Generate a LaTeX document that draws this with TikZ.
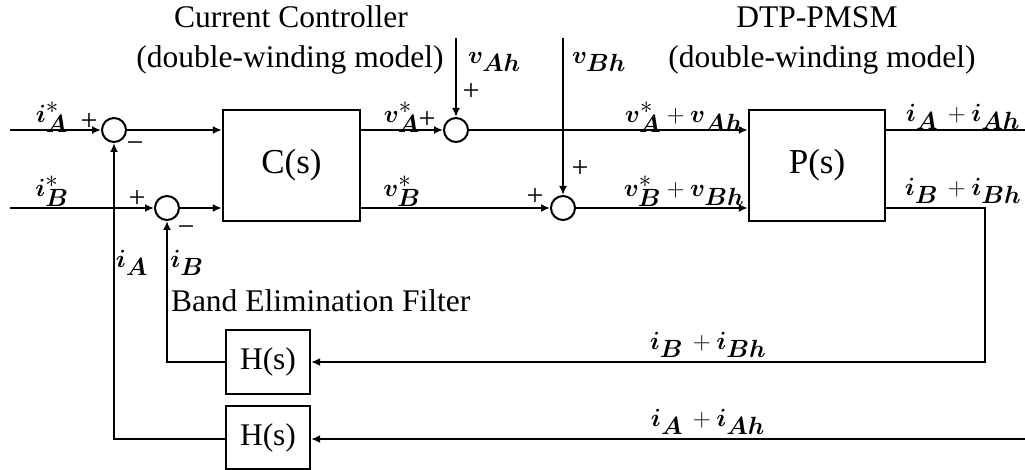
\documentclass[tikz,border=0pt]{standalone}
\usepackage{fontspec}
\setmainfont{Liberation Serif}
\usepackage{bm}
\usetikzlibrary{arrows.meta}
\begin{document}
\begin{tikzpicture}[x=1pt,y=-1pt,
  line width=2pt,
  blk/.style={draw,line width=2.4pt,inner sep=0pt},
  bigf/.style={font=\fontsize{35}{40}\selectfont},
  midf/.style={font=\fontsize{31.5}{36}\selectfont},
  sumj/.style={draw,circle,line width=2pt,minimum size=24pt,inner sep=0pt},
  arr/.style={-{Latex[length=9pt,width=8pt]}},
  thin/.style={line width=1.5pt},
  lbl/.style={font=\fontsize{36}{40}\selectfont,inner sep=0pt},
  sgn/.style={font=\fontsize{30}{34}\selectfont,inner sep=0pt},
  txt/.style={font=\fontsize{31.5}{36}\selectfont,inner sep=0pt}]
\useasboundingbox (0,0) rectangle (1025,470);
% blocks
\node[blk,bigf,minimum width=137pt,minimum height=111pt] (C) at (291.5,165.5) {C(s)};
\node[blk,bigf,minimum width=136pt,minimum height=111pt] (P) at (817,165.5) {P(s)};
\node[blk,midf,minimum width=84pt,minimum height=64pt] (H1) at (268,362) {H(s)};
\node[blk,midf,minimum width=84pt,minimum height=63pt] (H2) at (268,437.5) {H(s)};
% summing junctions
\node[sumj] (s1) at (114,130) {};
\node[sumj] (s2) at (167,208) {};
\node[sumj] (s3) at (456,130) {};
\node[sumj] (s4) at (563,208) {};
% coordinates
\coordinate (inA) at (10,130);
\coordinate (inB) at (10,208);
\coordinate (vA) at (456,38);
\coordinate (vB) at (563,38);
\coordinate (outA) at (1025,130);
\coordinate (cB) at (985,208);
\coordinate (dB) at (985,362);
\coordinate (fbA) at (1025,439);
\coordinate (cH1) at (167,362);
\coordinate (cH2) at (114,439);
% connectors
\draw[arr] (inA) -- (s1.west);
\draw[arr] (inB) -- (s2.west);
\draw[arr] (s1.east) -- (s1.east -| C.west);
\draw[arr] (s2.east) -- (s2.east -| C.west);
\draw[arr] (s3.west -| C.east) -- (s3.west);
\draw[arr] (s4.west -| C.east) -- (s4.west);
\draw[arr] (vA) -- (s3.north);
\draw[arr] (vB) -- (s4.north);
\draw[arr] (s3.east) -- (s3.east -| P.west);
\draw[arr] (s4.east) -- (s4.east -| P.west);
\draw[thin] (outA -| P.east) -- (outA);
\draw[thin,arr] (cB -| P.east) -- (cB) -- (dB) -- (H1.east |- dB);
\draw[thin,arr] (fbA) -- (H2.east |- fbA);
\draw[arr] (H1.west |- cH1) -- (cH1) -- (s2.south);
\draw[arr] (H2.west |- cH2) -- (cH2) -- (s1.south);
% texts
\node[txt,anchor=base] (t1) at (291,28) {Current Controller};
\node[txt,anchor=base] (t2) at (290,68) {(double-winding model)};
\node[txt,anchor=base] (t3) at (817,28) {DTP-PMSM};
\node[txt,anchor=base] (t4) at (822,68) {(double-winding model)};
\node[txt,anchor=base west] (t5) at (170,311) {Band Elimination Filter};
% signal labels
\node[lbl] (l1) at (52,117) {$\bm{i}^{*}_{\bm{A}}$};
\node[lbl] (l2) at (52,191) {$\bm{i}^{*}_{\bm{B}}$};
\node[lbl] (l3) at (402,117) {$\bm{v}^{*}_{\bm{A}}$};
\node[lbl] (l4) at (402,191) {$\bm{v}^{*}_{\bm{B}}$};
\node[lbl,anchor=west] (l5) at (467,62) {$\bm{v}_{\bm{Ah}}$};
\node[lbl,anchor=west] (l6) at (571,62) {$\bm{v}_{\bm{Bh}}$};
\node[lbl] (l7) at (684,117) {$\bm{v}^{*}_{\bm{A}}+\bm{v}_{\bm{Ah}}$};
\node[lbl] (l8) at (684,191) {$\bm{v}^{*}_{\bm{B}}+\bm{v}_{\bm{Bh}}$};
\node[lbl] (l9) at (963,117) {$\bm{i}_{\bm{A}}\,+\bm{i}_{\bm{Ah}}$};
\node[lbl] (l10) at (963,191) {$\bm{i}_{\bm{B}}\,+\bm{i}_{\bm{Bh}}$};
\node[lbl] (l11) at (708,345) {$\bm{i}_{\bm{B}}\,+\bm{i}_{\bm{Bh}}$};
\node[lbl] (l12) at (708,422) {$\bm{i}_{\bm{A}}\,+\bm{i}_{\bm{Ah}}$};
\node[lbl] (l13) at (132,263) {$\bm{i}_{\bm{A}}$};
\node[lbl] (l14) at (187,263) {$\bm{i}_{\bm{B}}$};
% signs
\node[sgn] (p1) at (89,122) {+};
\node[sgn] (p2) at (137,199) {+};
\node[sgn] (p3) at (427,120) {+};
\node[sgn] (p4) at (471,92) {+};
\node[sgn] (p5) at (535,197) {+};
\node[sgn] (p6) at (580,169) {+};
\node[sgn] (m1) at (135,147) {−};
\node[sgn] (m2) at (186,231) {−};
\end{tikzpicture}
\end{document}
